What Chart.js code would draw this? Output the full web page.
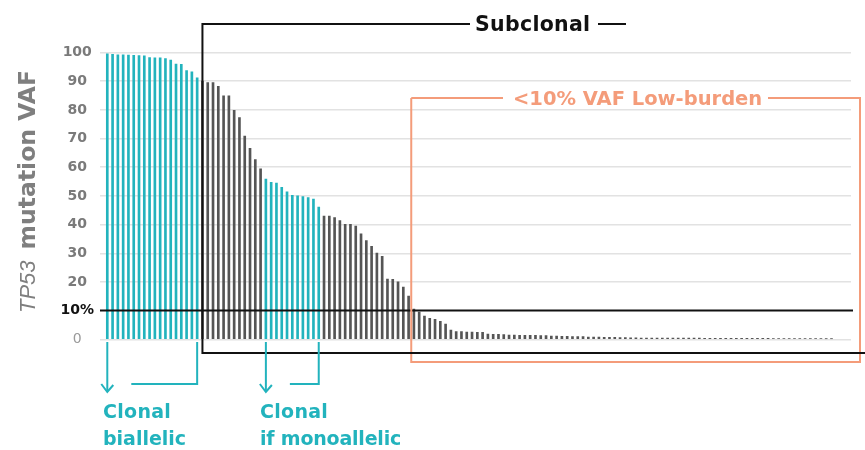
<!DOCTYPE html>
<html>
<head>
<meta charset="utf-8">
<script src="https://cdn.jsdelivr.net/npm/chart.js@4"></script>
<style>
  html, body { margin: 0; padding: 0; background: #fff; }
  #wrap { width: 865px; height: 450px; }
</style>
</head>
<body>
<div id="wrap"><canvas id="chart-vaf" width="865" height="450"></canvas></div>
<script>
// ── Datos: VAF de TP53 por muestra, ordenadas de mayor a menor ──
const biallelicVAF = [99.5, 99.4, 99.2, 99.2, 99.1, 99.0, 98.9, 98.8, 98.2, 98.1, 98.1, 97.9, 97.4, 96.0, 95.9, 93.7, 93.3, 91.2];
const subclonalHighVAF = [90.0, 89.5, 89.5, 88.2, 84.9, 84.9, 79.8, 77.3, 70.9, 66.6, 62.7, 59.4];
const monoallelicVAF = [55.9, 54.7, 54.5, 53.0, 51.4, 50.2, 50.0, 49.8, 49.4, 48.9, 46.1];
const subclonalMidVAF = [43.0, 43.0, 42.4, 41.4, 40.1, 40.1, 39.5, 36.8, 34.4, 32.4, 30.1, 28.9, 21.0, 20.9, 20.0, 18.2, 15.1, 10.5];
const lowBurdenVAF = [9.5, 8.1, 7.3, 7.0, 6.3, 5.3, 3.2, 2.66, 2.66, 2.54, 2.54, 2.43, 2.43, 1.85, 1.73, 1.73, 1.61, 1.5, 1.5,
  1.38, 1.38, 1.38, 1.38, 1.27, 1.27, 1.15, 1.15, 1.03, 1.03, 0.92, 0.92, 0.92, 0.8, 0.8, 0.8, 0.69, 0.69, 0.69, 0.57, 0.57,
  0.5, 0.48, 0.46, 0.45, 0.45, 0.44, 0.43, 0.43, 0.42, 0.41, 0.41, 0.4, 0.39, 0.39, 0.38, 0.37, 0.37, 0.36, 0.35, 0.35,
  0.34, 0.33, 0.33, 0.32, 0.31, 0.31, 0.3, 0.29, 0.29, 0.28, 0.27, 0.26, 0.25, 0.24, 0.22, 0.2, 0.18, 0.15, 0.12];
const yStep = 10;

const TEAL = '#22B3BD';
const GRAY = '#555555';
const SALMON = '#F49C7A';
const FONT = "'DejaVu Sans', sans-serif";

// grupos en orden, con su color
const grupos = [
  [biallelicVAF, TEAL],
  [subclonalHighVAF, GRAY],
  [monoallelicVAF, TEAL],
  [subclonalMidVAF, GRAY],
  [lowBurdenVAF, GRAY],
];
const puntos = [];
const colores = [];
grupos.forEach(([vals, col]) => vals.forEach(v => {
  puntos.push({ x: puntos.length, y: v });
  colores.push(col);
}));

// índices de muestra donde empiezan los grupos (para las anotaciones)
const iSub = biallelicVAF.length;                       // 18
const iMono = iSub + subclonalHighVAF.length;           // 30
const iMonoEnd = iMono + monoallelicVAF.length - 1;     // 40
const iLow = iMonoEnd + 1 + subclonalMidVAF.length;     // 59

const tickVal = c => (c && c.tick ? c.tick.value : null);

function linea(ctx, pts) {
  ctx.beginPath();
  ctx.moveTo(pts[0][0], pts[0][1]);
  for (let i = 1; i < pts.length; i++) ctx.lineTo(pts[i][0], pts[i][1]);
  ctx.stroke();
}

function texto(ctx, str, x, y, font, color, spacing) {
  ctx.font = font;
  ctx.fillStyle = color;
  if ('letterSpacing' in ctx) ctx.letterSpacing = (spacing || 0) + 'px';
  ctx.fillText(str, x, y);
  const w = ctx.measureText(str).width;
  if ('letterSpacing' in ctx) ctx.letterSpacing = '0px';
  return w;
}

// ── Anotaciones: línea 10%, cajas y corchetes ──
const anotaciones = {
  id: 'anotaciones',
  afterDatasetsDraw(chart) {
    const { ctx, chartArea: a, scales: { x, y } } = chart;
    ctx.save();
    ctx.textBaseline = 'alphabetic';
    ctx.textAlign = 'left';

    // línea 10%
    const y10 = y.getPixelForValue(10);
    ctx.strokeStyle = '#111';
    ctx.lineWidth = 2;
    linea(ctx, [[a.left, y10], [a.right + 2, y10]]);

    // caja <10% VAF Low-burden
    const oL = x.getPixelForValue(iLow - 1.5), oR = 860, oT = 98, oB = 362;
    ctx.strokeStyle = SALMON;
    linea(ctx, [[oL, oT], [oL, oB], [oR, oB], [oR, oT], [768, oT]]);
    linea(ctx, [[oL, oT], [503, oT]]);
    texto(ctx, '<10% VAF Low-burden', 513, 105, `bold 19.5px ${FONT}`, SALMON, 0);

    // caja Subclonal
    const sL = x.getPixelForValue(iSub), sT = 24, sB = 353;
    ctx.strokeStyle = '#111';
    linea(ctx, [[470, sT], [sL, sT], [sL, sB], [865, sB]]);
    linea(ctx, [[598, sT], [626, sT]]);
    texto(ctx, 'Subclonal', 475, 31, `bold 20.5px ${FONT}`, '#111', 0.3);

    // corchetes clonales
    ctx.strokeStyle = TEAL;
    const yTop = 342, yH = 384, yTip = 392;
    [[0, iSub - 1], [iMono, iMonoEnd]].forEach(([i0, i1]) => {
      const x0 = x.getPixelForValue(i0), x1 = x.getPixelForValue(i1);
      linea(ctx, [[x0, yTop], [x0, yTip]]);
      linea(ctx, [[x0 - 6, yH], [x0, yTip], [x0 + 6, yH + 1]]);
      linea(ctx, [[x0 + 24, yH], [x1, yH], [x1, yTop]]);
    });
    const f = `bold 19px ${FONT}`;
    texto(ctx, 'Clonal', 103, 418, f, TEAL, 0.3);
    texto(ctx, 'biallelic', 103, 445, f, TEAL, 0);
    texto(ctx, 'Clonal', 260, 418, f, TEAL, 0.3);
    texto(ctx, 'if monoallelic', 260, 445, f, TEAL, -0.2);

    // título eje Y
    ctx.translate(35, 313);
    ctx.rotate(-Math.PI / 2);
    const w = texto(ctx, 'TP53', 0, 0, "italic 22px 'Liberation Sans', sans-serif", '#7f7f7f', 0);
    texto(ctx, 'mutation VAF', w + 11, 0, `bold 23.5px ${FONT}`, '#7f7f7f', 0);
    ctx.restore();
  }
};

new Chart(document.getElementById('chart-vaf'), {
  type: 'bar',
  data: {
    datasets: [{
      data: puntos,
      backgroundColor: colores,
      barThickness: 2,
      borderWidth: 0,
    }]
  },
  options: {
    responsive: false,
    devicePixelRatio: 1,
    animation: false,
    layout: { padding: { top: 52.5, bottom: 110.7, right: 14, left: 0 } },
    plugins: { legend: { display: false }, tooltip: { enabled: false } },
    scales: {
      x: {
        type: 'linear',
        display: false,
        offset: false,
        bounds: 'data',
        min: -1.38,
        max: 140.69,
        afterDataLimits: s => { s.min = -1.38; s.max = 140.69; },
      },
      y: {
        min: 0,
        max: 100,
        afterFit: s => { s.width = 100; },
        border: { display: false },
        grid: {
          drawTicks: false,
          lineWidth: 1.5,
          color: c => tickVal(c) === 10 ? 'rgba(0,0,0,0)' : '#e2e2e2',
        },
        ticks: {
          stepSize: yStep,
          padding: 6,
          crossAlign: 'center',
          callback: v => v === 10 ? '10%' : String(v),
          color: c => tickVal(c) === 10 ? '#111' : (tickVal(c) === 0 ? '#9a9a9a' : '#7a7a7a'),
          font: c => ({ family: FONT, size: 14, weight: tickVal(c) === 0 ? 'normal' : 'bold' }),
        }
      }
    }
  },
  plugins: [anotaciones]
});
</script>
</body>
</html>
